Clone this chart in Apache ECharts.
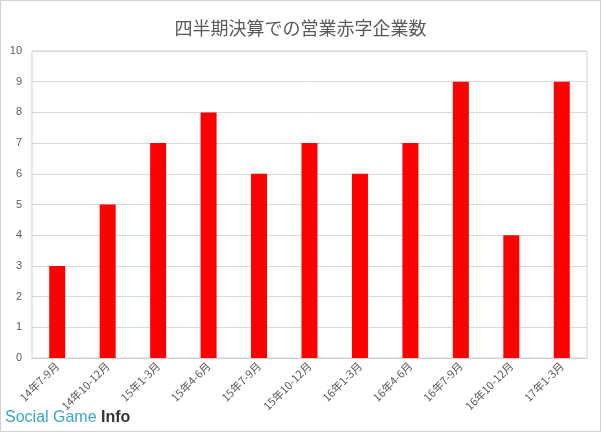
<!DOCTYPE html>
<html><head><meta charset="utf-8">
<script src="https://cdn.jsdelivr.net/npm/echarts@6/dist/echarts.min.js"></script>
<style>html,body{margin:0;padding:0;background:#fff}#c{width:601px;height:432px}</style>
</head><body><div id="c"></div>
<script>
const categories = ['14年7-9月','14年10-12月','15年1-3月','15年4-6月','15年7-9月','15年10-12月','16年1-3月','16年4-6月','16年7-9月','16年10-12月','17年1-3月'];
const values = [3,5,7,8,6,7,6,7,9,4,9];
const titleText = '四半期決算での営業赤字企業数';
const chart = echarts.init(document.getElementById('c'));
chart.setOption({
  animation:false,
  backgroundColor:'#fff',
  title:{text:titleText,left:'center',top:14,textStyle:{fontFamily:'Noto Sans CJK JP',fontSize:18,fontWeight:'normal',color:'#595959'}},
  grid:{left:32,right:14,top:51,bottom:74,show:true,borderColor:'#d0d0d0',borderWidth:1},
  xAxis:{type:'category',data:categories,axisLine:{lineStyle:{color:'#d0d0d0'}},axisTick:{show:false},
    axisLabel:{rotate:45,interval:0,color:'#595959',fontSize:11,fontFamily:'Noto Sans CJK JP',margin:6}},
  yAxis:{type:'value',min:0,max:10,interval:1,axisLine:{show:false},axisTick:{show:false},
    splitLine:{lineStyle:{color:'#d9d9d9'}},axisLabel:{color:'#595959',fontSize:11,fontFamily:'Liberation Sans',margin:10}},
  series:[{type:'bar',data:values,barWidth:16,itemStyle:{color:'#ff0000'}}],
  graphic:[
    {type:'rect',shape:{x:0.5,y:0.5,width:600,height:431},style:{fill:'none',stroke:'#d0d0d0',lineWidth:1}},
    {type:'text',left:5,top:410,style:{text:'{a|Social Game }{b|Info}',rich:{
      a:{fontFamily:'Liberation Sans',fontSize:16,fill:'#3aa6c2'},
      b:{fontFamily:'Liberation Sans',fontSize:16,fontWeight:'bold',fill:'#333'}}}}
  ]
});
</script></body></html>
